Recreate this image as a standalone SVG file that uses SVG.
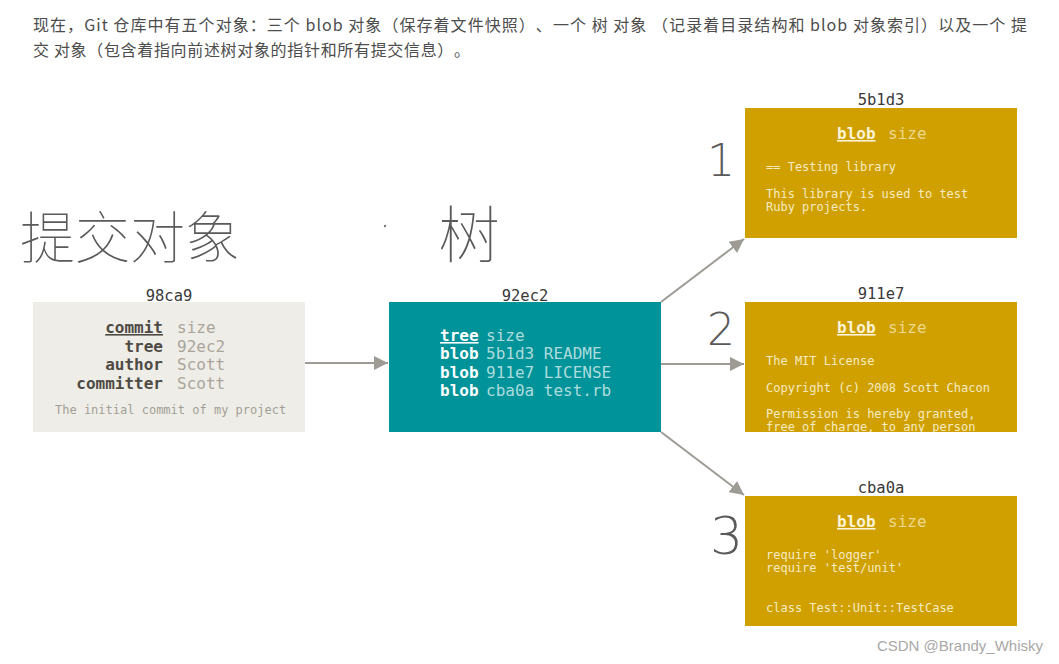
<svg xmlns="http://www.w3.org/2000/svg" width="1059" height="664" viewBox="0 0 1059 664">
<style>
.para{font-family:"Noto Sans CJK SC","Noto Sans",sans-serif;font-size:16px;fill:#4d4d4d;text-spacing-trim:space-all}
.mono{font-family:"DejaVu Sans Mono","Liberation Mono",monospace}
.id{font-size:15.5px;fill:#3a3a3a;text-anchor:middle}
.ck{font-size:16px;font-weight:bold;fill:#4e4a44;text-anchor:end}
.cv{font-size:16px;fill:#aaa59b}
.tk{font-size:16px;font-weight:bold;fill:#ffffff}
.tv{font-size:16px;fill:#acdcdc}
.bk{font-size:16px;font-weight:bold;fill:#fbf3d6}
.bs{font-size:16px;fill:#ecd88f}
.bt{font-size:12px;fill:#f6ebc3}
.hand{font-family:"Noto Sans CJK SC",sans-serif;font-weight:100;fill:#5a5a5a}
.num{font-family:"DejaVu Sans","Liberation Sans",sans-serif;font-weight:200;fill:#5a5a5a}
.edge{stroke:#9e9b95;stroke-width:2;fill:none}
</style>
<defs>
<marker id="ah" viewBox="0 0 10 10" refX="10" refY="5" markerWidth="14" markerHeight="14" markerUnits="userSpaceOnUse" orient="auto">
<path d="M0,0 L10,5 L0,10 z" fill="#9e9b95"/>
</marker>
<clipPath id="c2"><rect x="745" y="302" width="272" height="130"/></clipPath>
</defs>
<rect width="1059" height="664" fill="#ffffff"/>

<g id="paragraph">
<text class="para" x="33" y="31" textLength="994" lengthAdjust="spacing">现在，Git 仓库中有五个对象：三个 blob 对象（保存着文件快照）、一个 树 对象 （记录着目录结构和 blob 对象索引）以及一个 提</text>
<text class="para" x="33" y="56" textLength="437" lengthAdjust="spacing">交 对象（包含着指向前述树对象的指针和所有提交信息）。</text>
</g>

<g id="annotations">
<text class="hand" x="20" y="258" font-size="56" textLength="220" lengthAdjust="spacingAndGlyphs">提交对象</text>
<circle cx="385" cy="226" r="1.2" fill="#777"/>
<text class="hand" x="438" y="258" font-size="62">树</text>
<text class="num" x="707" y="176" font-size="44">1</text>
<text class="num" x="707" y="345" font-size="44">2</text>
<text class="num" x="710" y="554" font-size="52">3</text>
</g>

<g id="connectors">
<line class="edge" x1="305" y1="363" x2="388" y2="363" marker-end="url(#ah)"/>
<line class="edge" x1="661" y1="302" x2="744" y2="239" marker-end="url(#ah)"/>
<line class="edge" x1="661" y1="364" x2="744" y2="364" marker-end="url(#ah)"/>
<line class="edge" x1="661" y1="432" x2="744" y2="495" marker-end="url(#ah)"/>
</g>

<g id="commit-98ca9">
<text class="mono id" x="169" y="301">98ca9</text>
<rect x="33" y="302" width="272" height="130" fill="#eeede7"/>
<text class="mono ck" x="163" y="333" text-decoration="underline">commit</text>
<text class="mono ck" x="163" y="352">tree</text>
<text class="mono ck" x="163" y="370">author</text>
<text class="mono ck" x="163" y="389">committer</text>
<text class="mono cv" x="177" y="333">size</text>
<text class="mono cv" x="177" y="352">92ec2</text>
<text class="mono cv" x="177" y="370">Scott</text>
<text class="mono cv" x="177" y="389">Scott</text>
<text class="mono" x="55" y="414" font-size="12" fill="#a39f96">The initial commit of my project</text>
</g>

<g id="tree-92ec2">
<text class="mono id" x="525" y="301">92ec2</text>
<rect x="389" y="302" width="272" height="130" fill="#00939a"/>
<text class="mono tk" x="440" y="341" text-decoration="underline">tree</text>
<text class="mono tk" x="440" y="359">blob</text>
<text class="mono tk" x="440" y="378">blob</text>
<text class="mono tk" x="440" y="396">blob</text>
<text class="mono tv" x="486" y="341">size</text>
<text class="mono tv" x="486" y="359">5b1d3 README</text>
<text class="mono tv" x="486" y="378">911e7 LICENSE</text>
<text class="mono tv" x="486" y="396">cba0a test.rb</text>
</g>

<g id="blob-5b1d3">
<text class="mono id" x="881" y="105">5b1d3</text>
<rect x="745" y="108" width="272" height="130" fill="#cfa000"/>
<text class="mono bk" x="837" y="139" text-decoration="underline">blob</text>
<text class="mono bs" x="888" y="139">size</text>
<text class="mono bt" x="766" y="171">== Testing library</text>
<text class="mono bt" x="766" y="198">This library is used to test</text>
<text class="mono bt" x="766" y="211">Ruby projects.</text>
</g>

<g id="blob-911e7">
<text class="mono id" x="881" y="299">911e7</text>
<rect x="745" y="302" width="272" height="130" fill="#cfa000"/>
<g clip-path="url(#c2)">
<text class="mono bk" x="837" y="333" text-decoration="underline">blob</text>
<text class="mono bs" x="888" y="333">size</text>
<text class="mono bt" x="766" y="365">The MIT License</text>
<text class="mono bt" x="766" y="392">Copyright (c) 2008 Scott Chacon</text>
<text class="mono bt" x="766" y="418">Permission is hereby granted,</text>
<text class="mono bt" x="766" y="431">free of charge, to any person</text>
</g>
</g>

<g id="blob-cba0a">
<text class="mono id" x="881" y="493">cba0a</text>
<rect x="745" y="496" width="272" height="130" fill="#cfa000"/>
<text class="mono bk" x="837" y="527" text-decoration="underline">blob</text>
<text class="mono bs" x="888" y="527">size</text>
<text class="mono bt" x="766" y="559">require 'logger'</text>
<text class="mono bt" x="766" y="572">require 'test/unit'</text>
<text class="mono bt" x="766" y="612">class Test::Unit::TestCase</text>
</g>

<g id="watermark">
<text x="1043" y="651" text-anchor="end" font-family="Liberation Sans, sans-serif" font-size="15" fill="#a8a8a8">CSDN @Brandy_Whisky</text>
</g>
</svg>
